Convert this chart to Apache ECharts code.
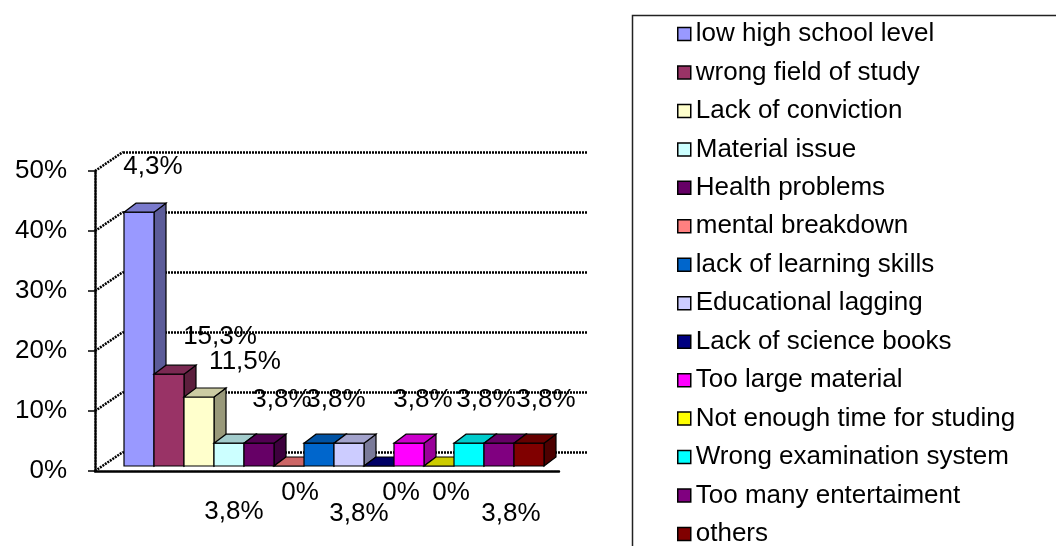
<!DOCTYPE html>
<html><head><meta charset="utf-8">
<script src="https://cdn.jsdelivr.net/npm/echarts@6/dist/echarts.min.js"></script>
<style>html,body{margin:0;padding:0;background:#fff}#c{width:1056px;height:546px}</style>
</head><body><div id="c"></div><script>
// ---- data ----
const categories = ["low high school level","wrong field of study","Lack of conviction","Material issue","Health problems","mental breakdown","lack of learning skills","Educational lagging","Lack of science books","Too large material","Not enough time for studing","Wrong examination system","Too many entertaiment","others"];
const values = [42.3, 15.3, 11.5, 3.8, 3.8, 0, 3.8, 3.8, 0, 3.8, 0, 3.8, 3.8, 3.8];
const labelTexts = ["4,3%","15,3%","11,5%","3,8%","3,8%","0%","3,8%","3,8%","0%","3,8%","0%","3,8%","3,8%","3,8%"];
const yTicks = [0, 10, 20, 30, 40, 50];
// ---- style / layout ----
const colors = ["#9999FF","#993366","#FFFFCC","#CCFFFF","#660066","#FF8080","#0066CC","#CCCCFF","#000080","#FF00FF","#FFFF00","#00FFFF","#800080","#800000"];
const labelOffsets = [[14,-45],[51,-37],[46,-35],[5,69],[23,-43],[11,27],[17,-43],[10,71],[22,27],[14,-43],[12,27],[17,-43],[12,71],[17,-43]];
const FONT = "'Liberation Sans', Arial, sans-serif";
const DEPTH = [12, -9];      // bar depth projection
const WALL = [28, -19];      // wall depth projection
const dotted = {color:'#000', width:2.5, type:[2,1]};

function shade(hex, f){
  const n = parseInt(hex.slice(1),16);
  const r = Math.round(((n>>16)&255)*f), g = Math.round(((n>>8)&255)*f), b = Math.round((n&255)*f);
  return 'rgb('+r+','+g+','+b+')';
}

const chart = echarts.init(document.getElementById('c'), null, {renderer:'canvas'});

const barSeries = categories.map((name, i) => ({
  type:'custom', name, xAxisIndex:2, yAxisIndex:2,
  data:[[i, values[i]]],
  itemStyle:{color:colors[i]},
  renderItem:(params, api) => {
    const idx = api.value(0), v = api.value(1);
    const p0 = api.coord([idx, 0]), p1 = api.coord([idx, v]);
    const bw = api.size([1, 0])[0];
    const x0 = p0[0]-bw/2, x1 = p0[0]+bw/2, yb = p0[1], yt = p1[1];
    const [dx, dy] = DEPTH;
    const c = colors[i];
    const off = labelOffsets[i];
    return {type:'group', children:[
      {type:'polygon', shape:{points:[[x1,yt],[x1+dx,yt+dy],[x1+dx,yb+dy],[x1,yb]]},
        style:{fill:shade(c,0.6), stroke:'#000', lineWidth:1.2}},
      {type:'rect', shape:{x:x0, y:yt, width:bw, height:yb-yt},
        style:{fill:c, stroke:'#000', lineWidth:1.2}},
      {type:'polygon', shape:{points:[[x0,yt],[x0+dx,yt+dy],[x1+dx,yt+dy],[x1,yt]]},
        style:{fill:shade(c,0.8), stroke:'#000', lineWidth:1.2}},
      {type:'text', z2:10, style:{text:labelTexts[i], x:p0[0]+off[0], y:yt+off[1],
        fill:'#000', font:'26px '+FONT, align:'center', verticalAlign:'middle'}}
    ]};
  }
}));

const slantSeries = {
  type:'custom', xAxisIndex:0, yAxisIndex:0, silent:true,
  data: yTicks.map(t => [0, t]),
  renderItem:(params, api) => {
    const p = api.coord([api.value(0), api.value(1)]);
    return {type:'line', shape:{x1:p[0], y1:p[1], x2:p[0]+WALL[0], y2:p[1]+WALL[1]},
      style:{stroke:'#000', lineWidth:2.5, lineDash:[2,1]}};
  }
};

chart.setOption({
  animation:false,
  backgroundColor:'#fff',
  textStyle:{fontFamily:FONT},
  grid:[
    {left:95, top:171, width:465, height:300},
    {left:123, top:152, width:464, height:300},
    {left:124, top:166, width:420, height:300}
  ],
  xAxis:[
    {gridIndex:0, type:'value', min:0, max:1, axisLine:{show:true, lineStyle:dotted}, axisTick:{show:false}, axisLabel:{show:false}, splitLine:{show:false}},
    {gridIndex:1, type:'value', min:0, max:1, show:false},
    {gridIndex:2, type:'category', data:categories, show:false}
  ],
  yAxis:[
    {gridIndex:0, type:'value', min:0, max:50, interval:10,
      axisLine:{show:true, lineStyle:dotted},
      axisTick:{show:true, length:7, lineStyle:{color:'#000', width:1.5}},
      axisLabel:{formatter:'{value}%', color:'#000', fontSize:26, fontFamily:FONT, margin:28},
      splitLine:{show:false}},
    {gridIndex:1, type:'value', min:0, max:50, interval:10,
      axisLine:{show:false}, axisTick:{show:false}, axisLabel:{show:false},
      splitLine:{show:true, lineStyle:dotted}},
    {gridIndex:2, type:'value', min:0, max:50, show:false}
  ],
  legend:{
    data:categories, orient:'vertical', left:672, top:16, height:700,
    icon:'rect', itemWidth:13, itemHeight:13, itemGap:12.46,
    itemStyle:{borderColor:'#000', borderWidth:1.5},
    textStyle:{color:'#000', fontSize:26, lineHeight:26, fontFamily:FONT},
    selectedMode:false
  },
  graphic:[
    {type:'rect', left:630, top:13, shape:{width:500, height:600},
      style:{fill:'none', stroke:'#222', lineWidth:1.5}, z:-1}
  ],
  series:[slantSeries, ...barSeries]
});
</script></body></html>
